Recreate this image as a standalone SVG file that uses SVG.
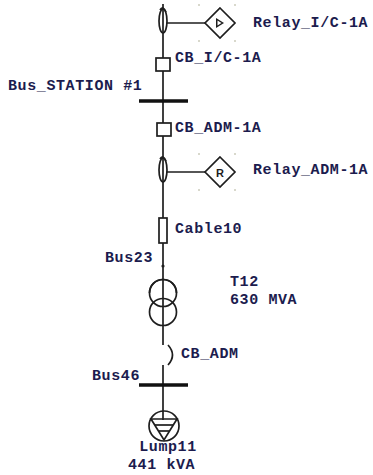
<svg xmlns="http://www.w3.org/2000/svg" width="373" height="475" viewBox="0 0 373 475">
<style>
.ln{stroke:#1e1e1e;stroke-width:1.7;fill:none}
.bus{stroke:#111;stroke-width:3.5;fill:none}
.sym{stroke:#1e1e1e;stroke-width:1.7;fill:#fff}
.t{font-family:"Liberation Mono","DejaVu Sans Mono",monospace;font-weight:bold;font-size:15px;letter-spacing:0.6px;fill:#1c1c4e}
.dot{fill:#d8d8cc}
</style>
<rect width="373" height="475" fill="#fff"/>
<g id="connectors">
<line class="ln" x1="163" y1="4" x2="163" y2="345"/>
<line class="ln" x1="163" y1="365" x2="163" y2="420"/>
<line class="ln" x1="167" y1="23" x2="205" y2="23"/>
<line class="ln" x1="167" y1="172" x2="205" y2="172"/>
</g>
<g id="ct1">
<ellipse class="ln" cx="163" cy="21" rx="4" ry="12"/>
<path class="ln" d="M160 10 Q163 5 166 12"/>
</g>
<g id="relay_ic">
<polygon class="sym" points="220,8 235,23 220,38 205,23"/>
<polygon fill="#1e1e1e" points="216,18 224,23 216,28"/>
<polygon fill="#fff" points="217.5,20.5 221.5,23 217.5,25.5"/>
<rect class="dot" x="198" y="4" width="2" height="2"/><rect class="dot" x="234" y="4" width="2" height="2"/>
<rect class="dot" x="198" y="40" width="2" height="2"/><rect class="dot" x="234" y="40" width="2" height="2"/>
<text class="t" x="253" y="27">Relay_I/C-1A</text>
</g>
<g id="cb_ic">
<rect class="sym" x="156" y="58" width="14" height="13"/>
<text class="t" x="175" y="62">CB_I/C-1A</text>
</g>
<g id="bus_station">
<line class="bus" x1="139" y1="101" x2="188" y2="101"/>
<text class="t" x="8" y="90">Bus_STATION #1</text>
</g>
<g id="cb_adm1">
<rect class="sym" x="157" y="123" width="14" height="13"/>
<text class="t" x="175" y="132">CB_ADM-1A</text>
</g>
<g id="ct2">
<ellipse class="ln" cx="163" cy="170" rx="4" ry="12"/>
<path class="ln" d="M160 159 Q163 154 166 161"/>
</g>
<g id="relay_adm">
<polygon class="sym" points="220,157 235,172 220,187 205,172"/>
<text x="220" y="176.5" text-anchor="middle" font-family="Liberation Sans,Arial,sans-serif" font-weight="bold" font-size="11" fill="#1e1e1e">R</text>
<rect class="dot" x="198" y="153" width="2" height="2"/><rect class="dot" x="234" y="153" width="2" height="2"/>
<rect class="dot" x="198" y="189" width="2" height="2"/><rect class="dot" x="234" y="189" width="2" height="2"/>
<text class="t" x="253" y="174">Relay_ADM-1A</text>
</g>
<g id="cable10">
<rect class="sym" x="159" y="218" width="8" height="25"/>
<text class="t" x="175" y="233">Cable10</text>
</g>
<g id="bus23">
<circle cx="163" cy="266" r="1.6" fill="#1e1e1e"/>
<text class="t" x="105" y="262">Bus23</text>
</g>
<g id="t12">
<circle class="ln" cx="163" cy="293" r="13.5" fill="#fff"/>
<circle class="ln" cx="163" cy="312" r="13.5"/>
<path class="ln" d="M149.5 293 A13.5 13.5 0 0 1 176.5 293"/>
<text class="t" x="230" y="286">T12</text>
<text class="t" x="230" y="304">630 MVA</text>
</g>
<g id="cb_adm">
<path class="ln" d="M168 345 Q177 355 168 365"/>
<text class="t" x="181" y="358">CB_ADM</text>
</g>
<g id="bus46">
<line class="bus" x1="139" y1="385" x2="188" y2="385"/>
<text class="t" x="92" y="380">Bus46</text>
</g>
<g id="lump11">
<circle class="ln" cx="164" cy="426" r="15"/>
<polygon class="ln" points="151,419 177,419 164,440"/>
<line class="ln" x1="155" y1="425" x2="173" y2="425"/>
<line class="ln" x1="159" y1="431" x2="169" y2="431"/>
<text class="t" x="168" y="451" text-anchor="middle">Lump11</text>
<text class="t" x="128" y="469">441 kVA</text>
</g>
</svg>
